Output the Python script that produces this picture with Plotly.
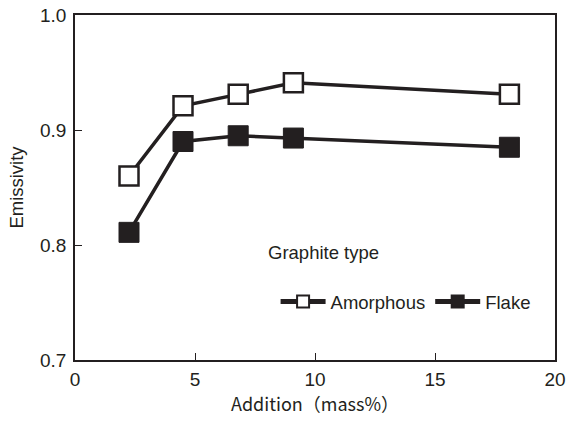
import plotly.graph_objects as go

addition = [2.25, 4.5, 6.8, 9.1, 18.1]
amorphous = [0.860, 0.921, 0.931, 0.941, 0.931]
flake = [0.811, 0.890, 0.895, 0.893, 0.885]

font_family = "Liberation Sans, Arial, sans-serif"
ink = "#231f20"

fig = go.Figure()
fig.add_trace(go.Scatter(
    x=addition, y=amorphous, name="Amorphous", mode="lines+markers",
    line=dict(color=ink, width=3.5),
    marker=dict(symbol="square", size=19, color="white", line=dict(color=ink, width=2.5)),
))
fig.add_trace(go.Scatter(
    x=addition, y=flake, name="Flake", mode="lines+markers",
    line=dict(color=ink, width=3.5),
    marker=dict(symbol="square", size=20, color=ink, line=dict(color=ink, width=1)),
))

axis_common = dict(
    showgrid=False, zeroline=False, showline=True, mirror=True, automargin=False,
    linecolor=ink, linewidth=1.8, ticks="inside", ticklen=7, tickwidth=1,
    tickcolor=ink, tickfont=dict(family=font_family, size=19, color=ink),
)
fig.update_xaxes(range=[0, 20], tickvals=[0, 5, 10, 15, 20], ticklabelstandoff=1,
                 title=dict(text="Addition（mass%）", standoff=10,
                            font=dict(family="Noto Sans CJK JP", size=18, color=ink)),
                 **axis_common)
fig.update_yaxes(range=[0.7, 1.0], tickvals=[0.7, 0.8, 0.9, 1.0], tickformat=".1f",
                 ticklabelstandoff=3,
                 title=dict(text="Emissivity", standoff=11,
                            font=dict(family=font_family, size=18.5, color=ink)),
                 **axis_common)

fig.update_layout(
    width=568, height=421,
    margin=dict(l=75, r=13, t=15, b=61),
    paper_bgcolor="white", plot_bgcolor="white",
    showlegend=True,
    legend=dict(
        orientation="h", x=(276 - 75) / 481, y=0.168, xanchor="left", yanchor="middle",
        bgcolor="rgba(0,0,0,0)", itemsizing="constant", itemwidth=45,
        font=dict(family=font_family, size=18.5, color=ink),
        tracegroupgap=0,
    ),
    annotations=[dict(
        text="Graphite type", xref="paper", yref="paper",
        x=(266 - 75) / 481, y=(360 - 252) / 345, xanchor="left", yanchor="middle",
        showarrow=False, font=dict(family=font_family, size=18.5, color=ink),
    )],
)

fig.write_html("out.html")
